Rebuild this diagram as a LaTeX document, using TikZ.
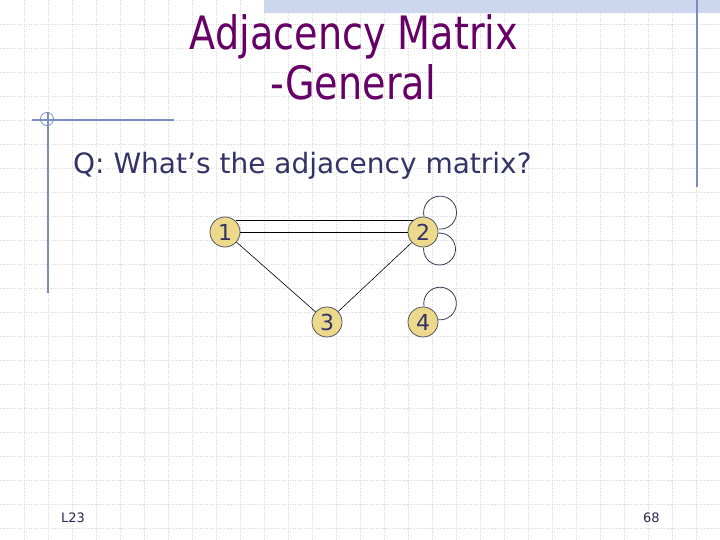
\documentclass[tikz,border=0pt]{standalone}
\usepackage{fontspec}
\setmainfont{DejaVu Sans}
\newfontfamily\titlefont[FakeStretch=0.83]{DejaVu Sans}
\definecolor{titlepurple}{HTML}{660066}
\definecolor{bodynavy}{HTML}{333366}
\definecolor{rulesblue}{HTML}{7A8CC0}
\definecolor{bandblue}{HTML}{CCD6EE}
\definecolor{nodefill}{HTML}{EDD98C}
\definecolor{nodeline}{HTML}{55555F}
\definecolor{loopcol}{HTML}{3A3A5A}
\definecolor{gridcol}{HTML}{DADADA}
\tikzset{
  gridline/.style={gridcol, line width=0.6pt, dash pattern=on 1pt off 1.2pt},
  vtx/.style={circle, minimum size=30pt, inner sep=0pt, fill=nodefill, draw=nodeline,
    line width=0.8pt, font=\fontsize{22}{22}\selectfont, text=bodynavy},
  edgeline/.style={black, line width=0.6pt},
  dbledge/.style={black, line width=0.9pt},
  loopline/.style={loopcol, line width=0.8pt},
  ruleline/.style={rulesblue, line width=1.2pt},
}
\begin{document}
\begin{tikzpicture}[x=1pt,y=1pt]
\useasboundingbox (0,0) rectangle (720,-540);
\fill[white] (0,0) rectangle (720,-540);
% grid
\foreach \gx in {24,48,...,696} {\draw[gridline] (\gx,0) -- (\gx,-540);}
\foreach \gy in {24,48,...,528} {\draw[gridline] (0,-\gy) -- (720,-\gy);}
% top band
\fill[bandblue] (264,0) rectangle (720,-13);
% decorative rules
\draw[ruleline] (697,0) -- (697,-187);
\draw[ruleline] (32,-120) -- (174,-120);
\draw[ruleline] (48,-112) -- (48,-293);
\draw[rulesblue, line width=0.8pt] (47,-119) circle[radius=6.5];
% title
\node[anchor=base, text=titlepurple, font=\titlefont\fontsize{46}{46}\selectfont] (t1) at (354,-50) {Adjacency Matrix};
\node[anchor=base, text=titlepurple, font=\titlefont\fontsize{46}{46}\selectfont] (t2) at (353,-100) {-General};
% question
\node[anchor=base west, inner sep=0pt, text=bodynavy, font=\fontsize{28}{28}\selectfont] (q) at (73,-174) {Q: What’s the adjacency matrix?};
% graph
\node[vtx] (n1) at (225,-232) {1};
\node[vtx] (n2) at (423,-232) {2};
\node[vtx] (n3) at (327,-322) {3};
\node[vtx] (n4) at (423,-322) {4};
\draw[dbledge] (n1.47) -- (n2.133);
\draw[dbledge] (n1.east) -- (n2.west);
\draw[edgeline] (n1) -- (n3);
\draw[edgeline] (n2) -- (n3);
\draw[loopline] (n2.86) arc[start angle=194, end angle=-93, radius=16.5];
\draw[loopline] (n2.-4) arc[start angle=94, end angle=-184, radius=16];
\draw[loopline] (n4.86) arc[start angle=191, end angle=-97, radius=16.3];
% footer
\node[anchor=base west, inner sep=0pt, text=bodynavy!80!black, font=\fontsize{13}{13}\selectfont] (l23) at (61,-522) {L23};
\node[anchor=base west, inner sep=0pt, text=bodynavy!80!black, font=\fontsize{13}{13}\selectfont] (pg) at (643,-522) {68};
\end{tikzpicture}
\end{document}
